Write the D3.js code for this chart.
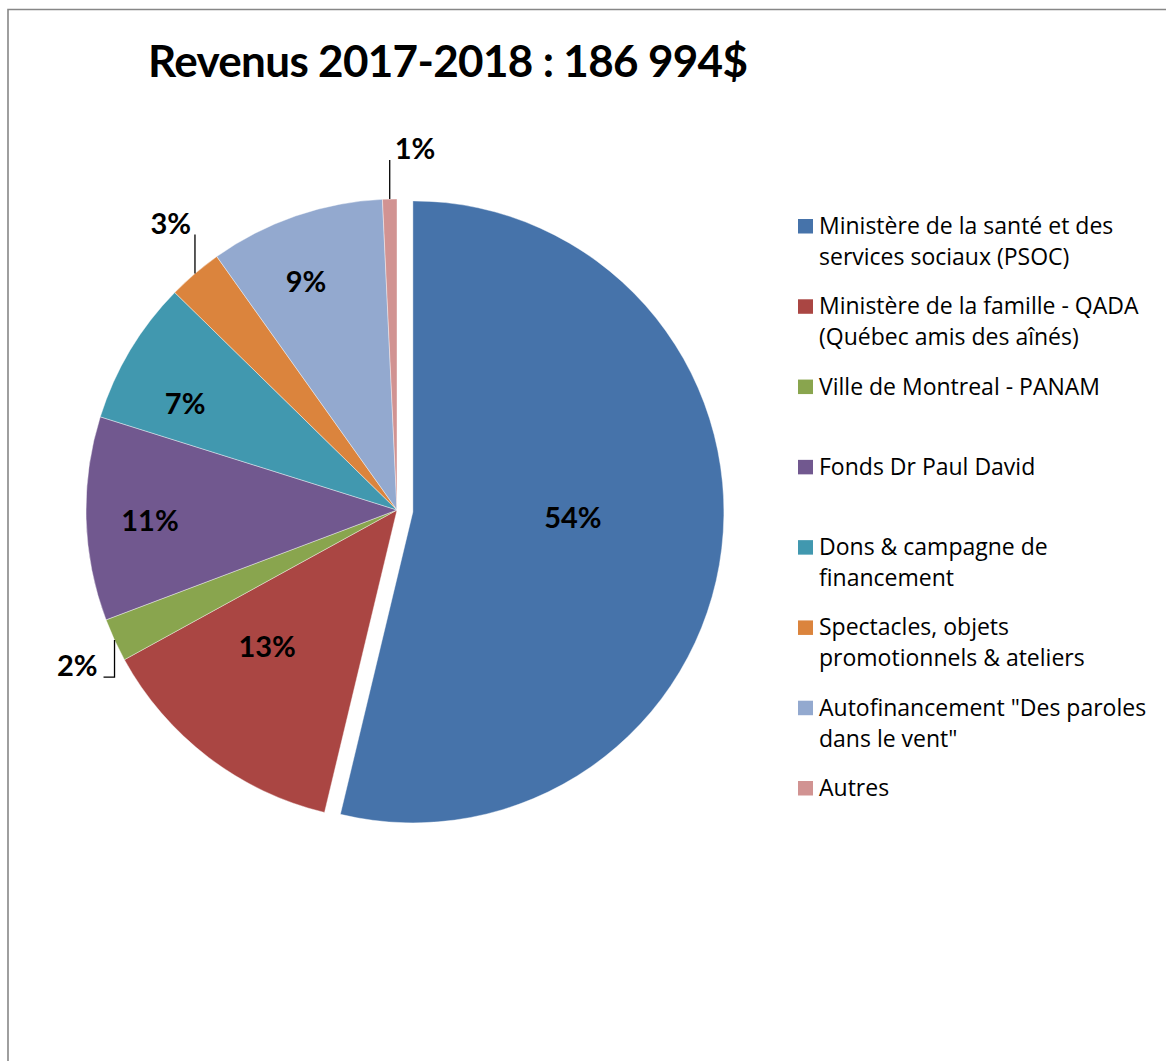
<!DOCTYPE html>
<html>
<head>
<meta charset="utf-8">
<script src="https://cdn.jsdelivr.net/npm/d3@7"></script>
<style>
  body { margin: 0; background: #fff; }
  svg { display: block; font-family: Lato, "Open Sans", sans-serif; }
</style>
</head>
<body>
<script>
const width = 1166;
const height = 1061;

const title = 'Revenus 2017-2018 : 186 994$';

// legend wording, one entry per slice ("\n" = line break as in the original)
const categories = [
  'Ministère de la santé et des\nservices sociaux (PSOC)',
  'Ministère de la famille - QADA\n(Québec amis des aînés)',
  'Ville de Montreal - PANAM',
  'Fonds Dr Paul David',
  'Dons & campagne de\nfinancement',
  'Spectacles, objets\npromotionnels & ateliers',
  'Autofinancement "Des paroles\ndans le vent"',
  'Autres'
];

// dollars (total 186 994$)
const values = [100500, 24800, 4200, 19800, 14000, 5300, 17000, 1394];

const colors = ['#4673AA', '#AA4643', '#89A54E', '#71588F', '#4198AF', '#DB843D', '#93A9CF', '#D19392'];

// label placement: radius factor + small angle nudge (deg) for the inside ones
const insideLabel = {
  0: { r: 0.515, da: -4.6 },
  1: { r: 0.605, da: 6.3 },
  3: { r: 0.795, da: -0.9 },
  4: { r: 0.762, da: -4.3 },
  6: { r: 0.79, da: -2.7 }
};
// outside labels with a leader line
const outsideLabel = {
  2: { up: false, len: 37, side: 'left', hook: 11 },
  5: { up: true, len: 39, side: 'left', hook: 0 },
  7: { up: true, len: 39, side: 'right', hook: 0 }
};

const cx = 397, cy = 510, radius = 311, explode = 16;
const labelSize = 29;

const svg = d3.select('body').append('svg')
  .attr('width', width)
  .attr('height', height);

// frame (only top + left edges are visible in the original)
svg.append('path')
  .attr('d', `M8,${height} L8,9.5 L${width},9.5`)
  .attr('fill', 'none')
  .attr('stroke', '#878787')
  .attr('stroke-width', 1.6);

// title
svg.append('text')
  .attr('x', 148)
  .attr('y', 77)
  .attr('font-weight', 'bold')
  .attr('font-size', 44)
  .attr('textLength', 600)
  .attr('lengthAdjust', 'spacing')
  .attr('fill', '#000')
  .text(title);

const total = d3.sum(values);
const pct = d => Math.round(d / total * 100) + '%';

const pie = d3.pie().sort(null).value(d => d);
const arcs = pie(values);

const arc = d3.arc().innerRadius(0).outerRadius(radius);

const mid = a => (a.startAngle + a.endAngle) / 2;
const offset = (a, i) => i === 0 ? [Math.sin(mid(a)) * explode, -Math.cos(mid(a)) * explode] : [0, 0];

const g = svg.append('g').attr('transform', `translate(${cx},${cy})`);

g.selectAll('path.slice')
  .data(arcs)
  .join('path')
    .attr('class', 'slice')
    .attr('transform', (d, i) => `translate(${offset(d, i)})`)
    .attr('d', arc)
    .attr('fill', (d, i) => colors[i])
    .attr('stroke', '#fff')
    .attr('stroke-width', 0.4)
    .append('title')
      .text((d, i) => categories[i].replace('\n', ' ') + ' : ' + d.value + '$');

// inside labels
arcs.forEach((a, i) => {
  const p = insideLabel[i];
  if (!p) return;
  const ang = mid(a) + p.da * Math.PI / 180;
  const [ox, oy] = offset(a, i);
  g.append('text')
    .attr('x', ox + Math.sin(ang) * radius * p.r)
    .attr('y', oy - Math.cos(ang) * radius * p.r)
    .attr('dy', '0.36em')
    .attr('text-anchor', 'middle')
    .attr('font-weight', 'bold')
    .attr('font-size', labelSize)
    .attr('fill', '#000')
    .text(pct(a.value));
});

// outside labels with leader lines
arcs.forEach((a, i) => {
  const p = outsideLabel[i];
  if (!p) return;
  const x0 = Math.sin(mid(a)) * radius;
  const y0 = -Math.cos(mid(a)) * radius;
  const y1 = p.up ? y0 - p.len : y0 + p.len;
  const x1 = x0 - p.hook;
  g.append('path')
    .attr('d', `M${x0},${y0} L${x0},${y1} L${x1},${y1}`)
    .attr('fill', 'none')
    .attr('stroke', '#000')
    .attr('stroke-width', 1.3);
  g.append('text')
    .attr('x', p.side === 'left' ? x1 - (p.hook ? 6 : 4) : x0 + 5)
    .attr('y', y1 - 1)
    .attr('text-anchor', p.side === 'left' ? 'end' : 'start')
    .attr('font-weight', 'bold')
    .attr('font-size', labelSize)
    .attr('fill', '#000')
    .text(pct(a.value));
});

// legend
const legendY = d3.scaleLinear().domain([0, categories.length - 1]).range([234, 796]);

const legend = svg.append('g')
  .selectAll('g')
  .data(categories)
  .join('g')
    .attr('transform', (d, i) => `translate(798,${legendY(i)})`);

legend.append('rect')
  .attr('x', 0)
  .attr('y', -15)
  .attr('width', 15)
  .attr('height', 14.5)
  .attr('fill', (d, i) => colors[i]);

legend.append('text')
  .attr('x', 21)
  .attr('y', 0)
  .attr('font-family', '"Open Sans", sans-serif')
  .attr('font-size', 23)
  .attr('fill', '#000')
  .selectAll('tspan')
  .data(d => d.split('\n'))
  .join('tspan')
    .attr('x', 21)
    .attr('dy', (d, i) => i === 0 ? 0 : 31)
    .text(d => d);
</script>
</body>
</html>
